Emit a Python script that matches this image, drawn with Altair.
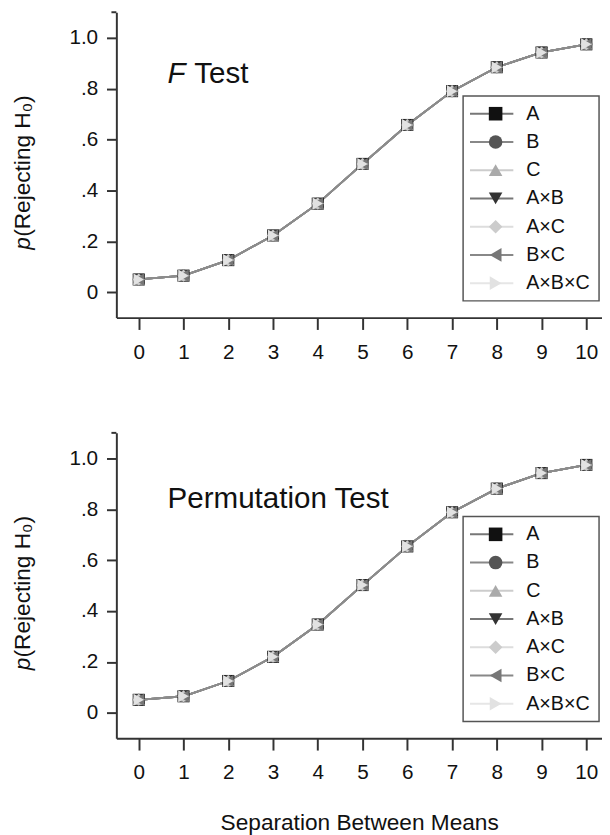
import altair as alt
import pandas as pd

FONT = "Liberation Sans"

# ---- data ----
names = ["A", "B", "C", "A×B", "A×C", "B×C", "A×B×C"]
shapes = ["square", "circle", "triangle-up", "triangle-down", "diamond", "triangle-left", "triangle-right"]
marker_colors = ["#111111", "#555555", "#aaaaaa", "#333333", "#cccccc", "#777777", "#e2e2e2"]
line_colors = ["#777777", "#888888", "#cccccc", "#777777", "#dddddd", "#888888", "#e6e6e6"]

separation = [0, 1, 2, 3, 4, 5, 6, 7, 8, 9, 10]
f_test = [0.050, 0.065, 0.126, 0.223, 0.348, 0.504, 0.657, 0.790, 0.884, 0.942, 0.974]
perm_test = [0.051, 0.065, 0.125, 0.220, 0.347, 0.502, 0.654, 0.788, 0.881, 0.942, 0.974]

y_ticks = [0, 0.1, 0.2, 0.3, 0.4, 0.5, 0.6, 0.7, 0.8, 0.9, 1.0]
y_top = 1.1
label_expr = ("datum.value == 0 ? '0' : datum.value == 1 ? '1.0' : "
              "(round(datum.value*10) % 2 == 0 ? '.' + round(datum.value*10) : '')")

W, H = 493, 310


def panel(vals, title_parts, title_baseline, show_xtitle):
    rows = [{"sep": x, "p": v, "series": s}
            for s in names for x, v in zip(separation, vals)]
    df = pd.DataFrame(rows)

    xaxis = alt.Axis(values=separation, title="Separation Between Means" if show_xtitle else None,
                     labelPadding=12, tickSize=12, labelFlush=False,
                     titlePadding=30, titleFontSize=23, titleFont=FONT,
                     titleFontWeight="normal", titleColor="#111")
    xenc = alt.X("sep:Q", scale=alt.Scale(domain=[-0.5, 10.35], nice=False, zero=False), axis=xaxis)
    yscale = alt.Scale(domain=[-0.1, y_top], nice=False, zero=False)
    yenc = alt.Y("p:Q", scale=yscale,
                 axis=alt.Axis(values=y_ticks, labelExpr=label_expr, title=None,
                               tickSize=10, labelPadding=9))

    fill_scale = alt.Scale(domain=names, range=marker_colors)
    shape_scale = alt.Scale(domain=names, range=shapes)
    color_scale = alt.Scale(domain=names, range=line_colors)

    base = alt.Chart(df)
    lines = base.mark_line(strokeWidth=1.8, color="#8c8c8c").encode(
        x=xenc, y=yenc, detail="series:N")
    points = base.mark_point(filled=True, size=150, opacity=1).encode(
        x=xenc, y=yenc,
        shape=alt.Shape("series:N", scale=shape_scale, legend=None),
        fill=alt.Fill("series:N", scale=fill_scale, legend=None))
    top_tick = alt.Chart(pd.DataFrame({"k": [0]})).mark_rule(
        color="#333333", strokeWidth=2).encode(
        x=alt.value(-5), x2=alt.value(0), y=alt.Y(datum=y_top))

    # panel label
    txt = []
    for t, xpos, style in title_parts:
        txt.append(alt.Chart(pd.DataFrame({"t": [t]})).mark_text(
            align="left", baseline="alphabetic", font=FONT, fontSize=30,
            fontStyle=style, color="#111").encode(
            x=alt.value(xpos), y=alt.value(title_baseline), text="t:N"))

    # y axis title
    yt1 = alt.Chart(pd.DataFrame({"t": ["p"]})).mark_text(
        align="left", baseline="middle", angle=270, font=FONT, fontSize=23,
        fontStyle="italic", color="#111").encode(
        x=alt.value(-95), y=alt.value(241), text="t:N")
    yt2 = alt.Chart(pd.DataFrame({"t": ["(Rejecting H₀)"]})).mark_text(
        align="left", baseline="middle", angle=270, font=FONT, fontSize=23,
        color="#111").encode(
        x=alt.value(-95), y=alt.value(228), text="t:N")

    main = alt.layer(lines, points, top_tick, *txt, yt1, yt2)

    # legend
    leg_df = pd.DataFrame({"series": names})
    leg_y = alt.Y("series:N", scale=alt.Scale(type="point", domain=names, range=[103, 275], padding=0),
                  axis=None)
    box = alt.Chart(pd.DataFrame({"k": [0]})).mark_rect(
        fill="white", stroke="#555555", strokeWidth=1.5).encode(
        x=alt.value(352), x2=alt.value(490), y=alt.value(85), y2=alt.value(293))
    leg_lines = alt.Chart(leg_df).mark_rule(strokeWidth=2).encode(
        x=alt.value(359), x2=alt.value(403), y=leg_y,
        color=alt.Color("series:N", scale=color_scale, legend=None))
    leg_pts = alt.Chart(leg_df).mark_point(filled=True, size=190, opacity=1).encode(
        x=alt.value(385), y=leg_y,
        shape=alt.Shape("series:N", scale=shape_scale, legend=None),
        fill=alt.Fill("series:N", scale=fill_scale, legend=None))
    leg_txt = alt.Chart(leg_df).mark_text(
        align="left", baseline="middle", font=FONT, fontSize=20, color="#111").encode(
        x=alt.value(416), y=leg_y, text="series:N")
    legend = alt.layer(box, leg_lines, leg_pts, leg_txt)

    return alt.layer(main, legend).resolve_scale(y="independent").properties(width=W, height=H)


top = panel(f_test, [("F", 52, "italic"), ("Test", 79, "normal")], 72, False)
bottom = panel(perm_test, [("Permutation Test", 52, "normal")], 76, True)

chart = alt.vconcat(top, bottom, spacing=71).properties(
    padding={"left": 4, "top": -3, "right": 0, "bottom": 0}
).configure_view(stroke=None).configure_axis(
    grid=False, domainColor="#333333", domainWidth=2, tickColor="#333333", tickWidth=2,
    labelFont=FONT, labelFontSize=21, labelColor="#111111"
)

chart.save("out.html", embed_options={"renderer": "svg", "actions": False})
